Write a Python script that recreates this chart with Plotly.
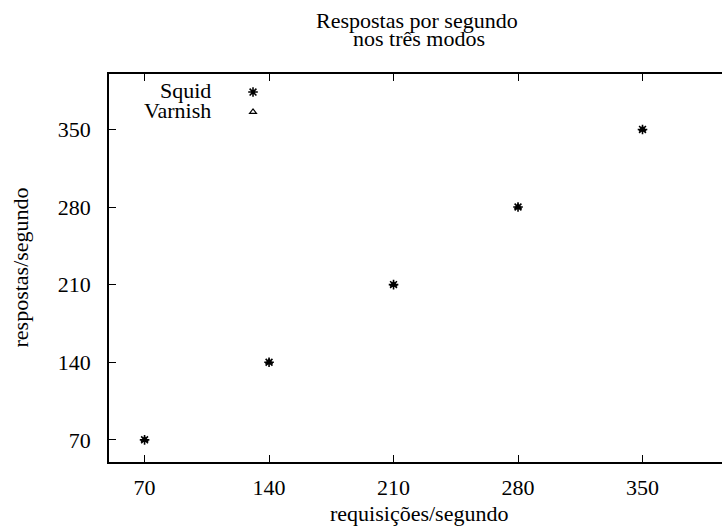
import plotly.graph_objects as go

requisicoes = [70, 140, 210, 280, 350]
squid = [70, 140, 210, 280, 350]
varnish = [70, 140, 210, 280, 350]
tick_vals = [70, 140, 210, 280, 350]
tick_text = ["70", "140", "210", "280", "350"]
series_names = ["Squid", "Varnish"]

FONT = "Liberation Serif, Times New Roman, serif"
FS = 22

fig = go.Figure()
fig.add_trace(go.Scatter(
    x=requisicoes, y=squid, mode="markers", name=" ",
    marker=dict(symbol="asterisk-open", size=8, color="black",
                line=dict(width=1.6, color="black")),
))
fig.add_trace(go.Scatter(
    x=requisicoes, y=varnish, mode="markers", name="  ",
    marker=dict(symbol="triangle-up-open", size=6, color="black",
                line=dict(width=1.2, color="black")),
))

annotations = [
    dict(text="Respostas por segundo", x=0.503, y=1.139, xref="paper", yref="paper",
         xanchor="center", yanchor="middle", showarrow=False),
    dict(text="nos três modos", x=0.505, y=1.0905, xref="paper", yref="paper",
         xanchor="center", yanchor="middle", showarrow=False),
    dict(text="requisições/segundo", x=0.506, y=-0.134, xref="paper", yref="paper",
         xanchor="center", yanchor="middle", showarrow=False),
    dict(text="respostas/segundo", x=-0.146, y=0.5, xref="paper", yref="paper",
         xanchor="center", yanchor="middle", showarrow=False, textangle=-90),
    dict(text=series_names[0], x=0.1697, y=0.9586, xref="paper", yref="paper",
         xanchor="right", yanchor="middle", showarrow=False),
    dict(text=series_names[1], x=0.1697, y=0.907, xref="paper", yref="paper",
         xanchor="right", yanchor="middle", showarrow=False),
]
for a in annotations:
    a["font"] = dict(family=FONT, size=FS, color="black")

fig.update_layout(
    width=722, height=527,
    margin=dict(l=109, r=0, t=74, b=65, pad=0),
    paper_bgcolor="white", plot_bgcolor="white",
    font=dict(family=FONT, size=FS, color="black"),
    showlegend=True,
    legend=dict(x=0.2023, y=0.992, xanchor="left", yanchor="top",
                bgcolor="rgba(0,0,0,0)", itemsizing="trace",
                font=dict(family=FONT, size=13, color="black"),
                tracegroupgap=0, itemwidth=30),
    annotations=annotations,
    xaxis=dict(range=[50, 394.7], tickvals=tick_vals, ticktext=tick_text,
               showgrid=False, zeroline=False, showline=True, linecolor="black",
               linewidth=1.5, mirror="ticks", ticks="inside", ticklen=7,
               tickcolor="black", tickwidth=1.2, ticklabelstandoff=5,
               tickfont=dict(family=FONT, size=FS)),
    yaxis=dict(range=[50, 400], tickvals=tick_vals, ticktext=tick_text,
               showgrid=False, zeroline=False, showline=True, linecolor="black",
               linewidth=1.5, mirror=False, ticks="inside", ticklen=7,
               tickcolor="black", tickwidth=1.2, ticklabelstandoff=12,
               tickfont=dict(family=FONT, size=FS)),
)

fig.write_html("out.html", config={"displayModeBar": False},
               post_script="document.body.style.margin='0';document.body.style.overflow='hidden';")
